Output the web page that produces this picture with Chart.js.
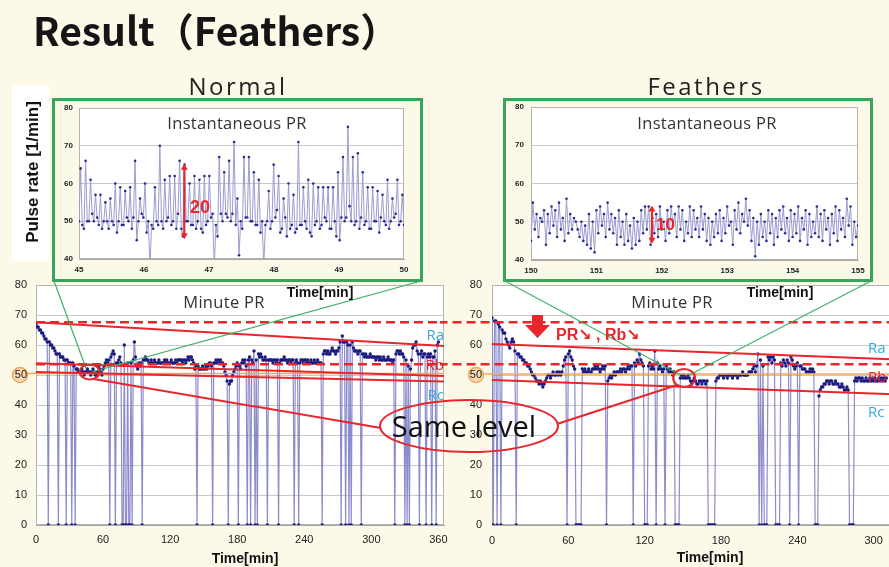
<!DOCTYPE html>
<html><head><meta charset="utf-8">
<title>Result（Feathers）</title>
<script src="https://cdn.jsdelivr.net/npm/chart.js@4.4.1/dist/chart.umd.min.js"></script>
<style>
html,body{margin:0;padding:0}
body{width:889px;height:567px;overflow:hidden;background:#FCF9E8;position:relative}
canvas,svg{position:absolute}
#under{left:0;top:0;z-index:0}
canvas{z-index:2}
#over{left:0;top:0;z-index:3;pointer-events:none}
.ttl{font-family:"Noto Sans CJK JP",sans-serif;font-weight:700;font-size:39px;fill:#151515}
.sub{font-family:"Open Sans",sans-serif;font-size:24px;letter-spacing:2.5px;fill:#222;text-anchor:middle}
.ct{font-family:"Open Sans",sans-serif;font-size:16.5px;letter-spacing:0.3px;fill:#333;text-anchor:middle}
.tm{font-family:"Liberation Sans",sans-serif;font-weight:700;font-size:14px;fill:#111;text-anchor:middle}
.lab{font-family:"Open Sans",sans-serif;font-size:15px}
</style></head>
<body>
<svg id="under" width="889" height="567">
  <rect x="12" y="85" width="37" height="176" fill="#FFFFFF"/>
  <circle cx="20" cy="375" r="7.5" fill="#FAD9B4" stroke="#F2A65A" stroke-width="1.5"/>
  <circle cx="476" cy="375" r="7.5" fill="#FAD9B4" stroke="#F2A65A" stroke-width="1.5"/>
</svg>
<canvas id="mainL" width="450" height="297" style="left:0px;top:270px"></canvas>
<canvas id="mainR" width="514" height="297" style="left:440px;top:270px"></canvas>
<canvas id="insL" width="362" height="176" style="left:56px;top:102px"></canvas>
<canvas id="insR" width="362" height="176" style="left:507px;top:102px"></canvas>
<svg id="over" width="889" height="567">
  <text x="33" y="46" class="ttl">Result（Feathers）</text>
  <text x="238" y="95" class="sub">Normal</text>
  <text x="706" y="95" class="sub">Feathers</text>
  <text transform="translate(38,172) rotate(-90)" text-anchor="middle" font-family="Liberation Sans" font-weight="700" font-size="17" fill="#111">Pulse rate [1/min]</text>
  <rect x="53.5" y="99.5" width="368" height="181" fill="none" stroke="#36A65C" stroke-width="3"/>
  <rect x="504.5" y="99.5" width="367" height="181" fill="none" stroke="#36A65C" stroke-width="3"/>
  <line id="gL1" stroke="#3DB06A" stroke-width="1.2"/>
  <line id="gL2" stroke="#3DB06A" stroke-width="1.2"/>
  <line id="gR1" stroke="#3DB06A" stroke-width="1.2"/>
  <line id="gR2" stroke="#3DB06A" stroke-width="1.2"/>
  <text x="237" y="129" class="ct">Instantaneous PR</text>
  <text x="707" y="129" class="ct">Instantaneous PR</text>
  <text x="224" y="308" class="ct">Minute PR</text>
  <text x="672" y="308" class="ct">Minute PR</text>
  <text x="320" y="297" class="tm">Time[min]</text>
  <text x="780" y="297" class="tm">Time[min]</text>
  <text x="245" y="563" class="tm">Time[min]</text>
  <text x="710" y="562" class="tm">Time[min]</text>
  <g id="arr20" stroke="#E8262B" fill="#E8262B"></g>
  <g id="arr10" stroke="#E8262B" fill="#E8262B"></g>
  <text x="190" y="213" font-family="Liberation Sans" font-weight="700" font-size="18" fill="#E8262B">20</text>
  <text x="656" y="230" font-family="Liberation Sans" font-weight="700" font-size="17" fill="#E8262B">10</text>
  <polygon points="532,315 543,315 543,325 550,325 537.5,338 525,325 532,325" fill="#E8262B"/>
  <text x="556" y="340" font-family="Liberation Sans, DejaVu Sans" font-weight="700" font-size="16" fill="#E8262B">PR↘ , Rb↘</text>
  <ellipse id="cL" fill="none" stroke="#E8262B" stroke-width="2"/>
  <ellipse id="cR" fill="none" stroke="#E8262B" stroke-width="2"/>
  <line id="kL" stroke="#E8262B" stroke-width="2"/>
  <line id="kR" stroke="#E8262B" stroke-width="2"/>
  <ellipse cx="469" cy="426" rx="89" ry="26" fill="none" stroke="#E8262B" stroke-width="2"/>
  <text x="464" y="437" font-family="Open Sans" font-size="29" fill="#111" text-anchor="middle">Same level</text>
  <text x="444" y="340" class="lab" fill="#36A9E1" text-anchor="end">Ra</text>
  <text x="444" y="370" class="lab" fill="#E8262B" text-anchor="end">Rb</text>
  <text x="444" y="400" class="lab" fill="#36A9E1" text-anchor="end">Rc</text>
  <text x="868" y="353" class="lab" fill="#36A9E1">Ra</text>
  <text x="868" y="382" class="lab" fill="#E8262B">Rb</text>
  <text x="868" y="417" class="lab" fill="#36A9E1">Rc</text>
</svg>
<script>
// ---------------- data ----------------
const mainXTicks = [0, 60, 120, 180, 240, 300, 360];
const mainYTicks = [0, 10, 20, 30, 40, 50, 60, 70, 80];
const insetYTicks = [40, 50, 60, 70, 80];
const normalInsetXTicks = [45, 46, 47, 48, 49, 50];
const feathersInsetXTicks = [150, 151, 152, 153, 154, 155];

// Minute PR, one value per minute (0 = dropout)
const normalMinutePR = [
  67,66,66,65,65,64,64,63,62,62, 61,0,61,60,60,59,59,58,57,57,
  0,57,56,56,56,55,55,0,55,54, 54,54,0,54,53,0,52,52,51,51,
  51,52,51,50,51,51,52,51,51,50, 51,52,51,50,50,51,53,52,51,50,
  52,53,54,55,54,55,0,56,57,58, 57,0,54,54,55,56,54,0,0,60,
  0,0,54,0,0,54,0,55,61,56, 53,52,54,53,54,0,55,55,56,55,
  55,54,54,55,54,54,55,54,54,54, 55,54,54,54,54,55,54,55,54,54,
  54,55,54,54,54,55,54,55,55,55, 55,54,55,55,54,55,56,55,56,56,
  55,54,52,53,0,53,52,52,52,53, 52,52,53,52,53,54,54,53,0,54,
  54,55,54,55,54,55,54,54,53,51, 50,48,0,47,48,48,50,51,52,53,
  54,0,53,52,54,55,54,55,53,0, 55,56,0,55,54,58,0,55,0,57,
  56,57,56,55,55,56,55,0,55,55, 55,55,54,55,55,54,55,0,54,55,
  55,55,56,55,55,54,55,55,54,55, 55,0,54,55,54,0,54,55,55,54,
  55,55,54,55,54,54,55,54,54,55, 54,54,55,54,54,54,0,57,58,58,
  57,58,57,57,58,59,58,58,57,58, 58,59,61,0,63,61,61,0,61,60,
  0,60,0,61,59,58,58,58,57,58, 58,0,57,57,56,57,56,56,56,57,
  56,56,56,56,55,56,56,55,56,55, 55,56,55,55,55,56,55,55,55,54,
  55,0,57,58,58,57,58,57,57,56, 0,55,0,53,0,52,55,59,60,60,
  61,58,57,0,57,58,56,57,57,0, 56,57,56,57,0,56,56,58,0,60,
  61
];
const feathersMinutePR = [
  69,0,68,68,0,67,66,0,65,64, 64,62,61,60,59,61,62,61,58,0,
  57,57,56,56,55,55,54,54,53,53, 52,51,50,50,49,48,48,47,48,47,
  46,47,48,49,50,50,49,50,51,50, 50,51,50,51,50,51,53,55,56,0,
  57,58,56,55,53,52,0,0,0,0, 0,52,51,52,51,51,52,51,51,52,
  52,53,52,53,52,51,52,53,52,53, 0,48,49,50,49,50,51,50,51,51,
  51,52,51,52,52,51,52,53,52,53, 53,0,54,53,55,54,57,55,54,53,
  0,0,0,53,54,52,53,52,58,0, 54,52,53,52,51,52,0,53,52,51,
  52,51,50,51,0,0,0,0,49,50, 49,50,49,49,50,49,48,47,48,49,
  48,47,47,48,48,47,48,48,47,48, 0,0,0,0,0,0,48,49,49,50,
  50,50,49,50,50,49,50,50,50,49, 50,50,50,49,50,50,50,51,50,50,
  50,50,51,51,51,52,53,51,53,57, 0,55,0,53,0,0,0,56,55,56,
  54,56,55,0,0,0,0,54,53,55, 54,53,55,54,0,56,55,53,52,53,
  54,0,53,53,52,52,52,51,51,51, 52,51,52,51,0,0,0,43,45,46,
  46,47,47,48,48,47,48,48,47,47, 48,47,47,46,46,47,46,45,45,46,
  45,0,0,0,0,48,49,48,49,49, 48,49,48,48,49,48,48,49,48,49,
  48,49,48,48,49,48,49,48,49,48, 49
];

// Instantaneous PR, beat by beat (evenly spaced over the 5-minute window)
const normalInstPR = [
  50,64,49, 48,66,50, 50,61,52, 50,57,51, 49,57,48, 50,55,50, 48,56,50, 49,60,47,
  50,59,49, 49,58,51, 50,59,48, 51,66,45, 50,56,52, 51,60,47, 50,38,49, 48,59,50,
  49,70,50, 48,61,50, 51,62,49, 50,62,48, 52,66,48, 46,65,50, 50,60,49, 49,62,48,
  50,61,48, 47,62,49, 50,62,51, 52,38,49, 46,67,52, 50,63,52, 51,66,50, 52,71,49,
  56,41,50, 48,67,51, 51,67,50, 50,63,49, 49,61,47, 50,38,49, 50,58,48, 50,65,51,
  53,62,47, 48,56,51, 46,60,48, 49,57,47, 48,71,49, 49,59,50, 48,61,47, 46,60,49,
  50,59,48, 49,59,51, 50,59,48, 48,59,50, 46,63,45, 51,67,50, 51,75,54, 50,67,49,
  50,68,48, 51,63,49, 50,59,48, 48,59,50, 50,58,47, 51,57,50, 49,61,48, 50,56,51,
  52,61,49, 50,57,49
];
const feathersInstPR = [
  45,55,48,52,46,51,50,53,44,52, 47,54,49,53,46,55,48,51,45,56,
  47,52,48,51,50,48,46,50,45,49, 44,52,43,50,42,53,47,54,49,52,
  46,55,48,52,47,51,44,53,46,50, 44,52,45,49,43,51,44,50,45,53,
  47,54,48,54,44,51,47,52,46,54, 48,50,45,53,47,54,49,52,46,54,
  48,53,45,50,47,54,46,53,48,51, 46,54,48,52,45,51,44,50,46,52,
  47,53,45,51,47,54,49,50,44,53, 48,55,47,52,50,56,49,53,45,51,
  41,50,44,52,46,50,45,53,47,52, 44,51,46,53,48,54,47,51,45,53,
  46,52,47,54,45,51,48,53,44,52, 46,50,47,54,46,52,45,53,48,51,
  44,52,47,54,45,53,48,51,46,56, 49,54,44,50,46,49
];

// Reference lines: [minute, pulse rate]
const levelHigh = [[-42, 67.6], [365, 67.6]];
const levelRb   = [[-42, 53.6], [365, 53.6]];
const normalRa  = [[0, 67.6], [365, 59.7]];
const normalRb  = [[0, 53.9], [365, 49.7]];
const normalRc  = [[0, 51.0], [365, 47.8]];
const normalOrange = [[-8, 50.5], [365, 50.5]];
const feathersRa = [[0, 60.3], [360, 54.5]];
const feathersRc = [[0, 48.3], [360, 42.9]];
const feathersOrange = [[-6, 50.3], [360, 50.3]];

// ---------------- drawing ----------------
const RED = '#E8262B', ORANGE = '#F2A65A';
const plotFrame = {
  id: 'plotFrame',
  beforeDraw(chart) {
    const a = chart.chartArea, c = chart.ctx;
    c.save(); c.fillStyle = '#FFFFFF';
    c.fillRect(a.left, a.top, a.right - a.left, a.bottom - a.top); c.restore();
  },
  beforeDatasetsDraw(chart) {
    const a = chart.chartArea, c = chart.ctx;
    c.save(); c.strokeStyle = '#B4B4B4'; c.lineWidth = 1;
    c.strokeRect(Math.round(a.left) + 0.5, Math.round(a.top) + 0.5, Math.round(a.right - a.left) - 1, Math.round(a.bottom - a.top) - 1);
    c.restore();
  }
};
Chart.register(plotFrame);

const pts = (vals, t0, dt) => vals.map((v, i) => ({x: t0 + i * dt, y: v}));
const seg = pairs => pairs.map(p => ({x: p[0], y: p[1]}));
const refLine = (pairs, color, width, dash) => ({data: seg(pairs), borderColor: color, borderWidth: width,
  borderDash: dash || [], pointRadius: 0, clip: false, order: 0, tension: 0});

function axisX(min, max, ticks, h, pad, font) {
  return {type: 'linear', min, max,
    afterBuildTicks: s => { s.ticks = ticks.map(v => ({value: v})); },
    afterFit: s => { s.height = h; s.paddingLeft = 0; s.paddingRight = 0; },
    grid: {display: false, drawTicks: false},
    border: {display: true, color: '#A8A8A8', width: 1},
    ticks: {padding: pad, font, color: '#222', maxRotation: 0, autoSkip: false}};
}
function axisY(min, max, ticks, w, pad, font) {
  return {type: 'linear', min, max,
    afterBuildTicks: s => { s.ticks = ticks.map(v => ({value: v})); },
    afterFit: s => { s.width = w; s.paddingTop = 0; s.paddingBottom = 0; },
    grid: {color: '#C9C9C9', drawTicks: false, lineWidth: 1},
    border: {display: true, color: '#A8A8A8'},
    ticks: {padding: pad, font, color: '#222'}};
}
function build(id, datasets, scales, padding) {
  return new Chart(document.getElementById(id), {
    type: 'line', data: {datasets},
    options: {responsive: false, animation: false, devicePixelRatio: 1, events: [],
      layout: {padding},
      plugins: {legend: {display: false}, tooltip: {enabled: false}},
      scales}
  });
}
const mainFont = {family: 'Liberation Sans', size: 11};
const insFont = {family: 'Liberation Sans', size: 8, weight: 'bold'};
const minuteStyle = {borderColor: 'rgba(120,120,196,0.85)', borderWidth: 1.2, pointRadius: 1.7,
  pointBackgroundColor: '#1B1B80', pointBorderWidth: 0, order: 1, tension: 0};
const instStyle = {borderColor: '#9C9CD2', borderWidth: 1, pointRadius: 1.3,
  pointBackgroundColor: '#2B2B8A', pointBorderWidth: 0, order: 1, tension: 0};

const mainL = build('mainL', [
  refLine(levelHigh.map(p => [Math.max(p[0], 0), p[1]]), RED, 2.5, [9, 5]),
  refLine(levelRb.map(p => [Math.max(p[0], 0), p[1]]), RED, 2.5, [9, 5]),
  refLine(normalRa, RED, 2), refLine(normalRb, RED, 2), refLine(normalRc, RED, 2),
  refLine(normalOrange, ORANGE, 1.5),
  Object.assign({data: pts(normalMinutePR, 0, 1)}, minuteStyle)
], {x: axisX(0, 365, mainXTicks, 42, 8, mainFont), y: axisY(0, 80, mainYTicks, 36, 9, mainFont)},
  {top: 15, right: 6, left: 0, bottom: 0});

const mainR = build('mainR', [
  refLine(levelHigh, RED, 2.5, [9, 5]), refLine(levelRb, RED, 2.5, [9, 5]),
  refLine(feathersRa, RED, 2), refLine(feathersRc, RED, 2),
  refLine(feathersOrange, ORANGE, 1.5),
  Object.assign({data: pts(feathersMinutePR, 0, 1)}, minuteStyle)
], {x: axisX(0, 360, mainXTicks, 42, 9, mainFont), y: axisY(0, 80, mainYTicks, 52, 10, mainFont)},
  {top: 15, right: 0, left: 0, bottom: 0});

const insL = build('insL', [
  Object.assign({data: pts(normalInstPR, 45, 5 / (normalInstPR.length - 1))}, instStyle)
], {x: axisX(45, 50, normalInsetXTicks, 19, 6, insFont), y: axisY(40, 80, insetYTicks, 23, 6, insFont)},
  {top: 6, right: 14, left: 0, bottom: 0});

const insR = build('insR', [
  Object.assign({data: pts(feathersInstPR, 150, 5 / (feathersInstPR.length - 1))}, instStyle)
], {x: axisX(150, 155, feathersInsetXTicks, 18, 6, insFont), y: axisY(40, 80, insetYTicks, 24, 7, insFont)},
  {top: 5, right: 11, left: 0, bottom: 0});

// ---------------- overlay geometry (from the charts' scales) ----------------
function pg(chart, x, y) {
  const c = chart.canvas;
  return [c.offsetLeft + chart.scales.x.getPixelForValue(x), c.offsetTop + chart.scales.y.getPixelForValue(y)];
}
function setLine(id, a, b) {
  const e = document.getElementById(id);
  e.setAttribute('x1', a[0]); e.setAttribute('y1', a[1]); e.setAttribute('x2', b[0]); e.setAttribute('y2', b[1]);
}
function setEll(id, c, rx, ry) {
  const e = document.getElementById(id);
  e.setAttribute('cx', c[0]); e.setAttribute('cy', c[1]); e.setAttribute('rx', rx); e.setAttribute('ry', ry);
}
function dblArrow(gid, a, b) {
  const g = document.getElementById(gid), x = a[0];
  g.innerHTML = '<line x1="' + x + '" y1="' + (a[1] + 3) + '" x2="' + x + '" y2="' + (b[1] - 3) + '" stroke-width="2.2"/>' +
    '<polygon stroke="none" points="' + (x - 3.5) + ',' + (a[1] + 5) + ' ' + (x + 3.5) + ',' + (a[1] + 5) + ' ' + x + ',' + (a[1] - 1) + '"/>' +
    '<polygon stroke="none" points="' + (x - 3.5) + ',' + (b[1] - 5) + ' ' + (x + 3.5) + ',' + (b[1] - 5) + ' ' + x + ',' + (b[1] + 1) + '"/>';
}
// green zoom lines from inset frames to the zoomed minute range
setLine('gL1', [54, 281], pg(mainL, 45, 52));
setLine('gL2', [421, 281], pg(mainL, 50, 51));
setLine('gR1', [505, 281], pg(mainR, 148, 50));
setLine('gR2', [871, 281], pg(mainR, 155, 50));
// circles at the "same level" points and connectors to the callout
const cl = pg(mainL, 48, 51), cr = pg(mainR, 151, 49);
setEll('cL', cl, 10, 7.5);
setEll('cR', cr, 11, 9);
setLine('kL', [cl[0] + 4, cl[1] + 7], [381, 428]);
setLine('kR', [557, 424], [cr[0] - 7, cr[1] + 7]);
// amplitude arrows in the insets
dblArrow('arr20', pg(insL, 46.62, 65), pg(insL, 46.62, 45.5));
dblArrow('arr10', pg(insR, 151.85, 54), pg(insR, 151.85, 44.5));
</script>
</body></html>
